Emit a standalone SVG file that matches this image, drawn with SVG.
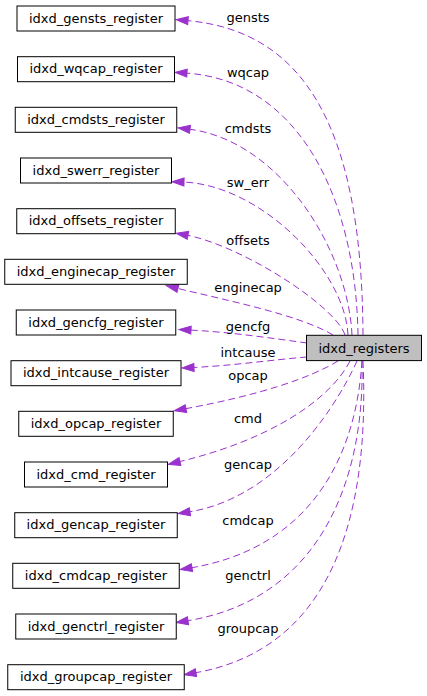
<svg xmlns="http://www.w3.org/2000/svg" width="427" height="696" viewBox="0 0 427 696">
<style>
.node rect{fill:#ffffff;stroke:#000000;stroke-width:1}
.node.main rect{fill:#bfbfbf}
text{font-family:"DejaVu Sans","Liberation Sans",sans-serif;font-size:13px;fill:#000000}
.node text{text-anchor:middle}
.lbl{text-anchor:middle}
.edge{fill:none;stroke:#9a32cd;stroke-width:1;stroke-dasharray:7,4;marker-end:url(#ah)}
</style>
<defs>
<marker id="ah" markerUnits="userSpaceOnUse" viewBox="0 -5 14 10" refX="2" refY="0" markerWidth="14" markerHeight="10" orient="auto" overflow="visible">
<path d="M0,-4L12,0L0,4z" fill="#9a32cd" stroke="#9a32cd" stroke-width="1"/>
</marker>
</defs>
<rect width="427" height="696" fill="#ffffff"/>
<g id="connectors">
<path class="edge" d="M363,335 C362,120 300,30 186,20.5"/>
<path class="edge" d="M358,335 C356,200 300,80 185,73"/>
<path class="edge" d="M352,335 C348,250 280,140 188,129"/>
<path class="edge" d="M348,335 C345,270 260,184 182,182"/>
<path class="edge" d="M345,335 C335,305 240,245 186,235"/>
<path class="edge" d="M333,335 C300,315 225,300 176,288"/>
<path class="edge" d="M307,343 C270,338 230,332 189,330"/>
<path class="edge" d="M307,357 C270,360 230,366 192,367.5"/>
<path class="edge" d="M338,361 C310,378 260,395 184,409"/>
<path class="edge" d="M350,361 C330,400 270,440 178,462"/>
<path class="edge" d="M357,361 C330,420 270,500 188,512"/>
<path class="edge" d="M362,361 C355,470 300,550 190,568"/>
<path class="edge" d="M362,361 C365,480 320,600 186,621"/>
<path class="edge" d="M363,361 C370,520 330,650 194,673"/>
<text class="lbl" x="248" y="22">gensts</text>
<text class="lbl" x="248" y="77">wqcap</text>
<text class="lbl" x="248" y="133">cmdsts</text>
<text class="lbl" x="248" y="187">sw_err</text>
<text class="lbl" x="248" y="245">offsets</text>
<text class="lbl" x="248" y="292">enginecap</text>
<text class="lbl" x="248" y="331">gencfg</text>
<text class="lbl" x="248" y="357">intcause</text>
<text class="lbl" x="248" y="380">opcap</text>
<text class="lbl" x="248" y="423">cmd</text>
<text class="lbl" x="248" y="469">gencap</text>
<text class="lbl" x="248" y="525">cmdcap</text>
<text class="lbl" x="248" y="580">genctrl</text>
<text class="lbl" x="248" y="633">groupcap</text>
</g>
<g id="node-main" class="node main"><rect x="306.5" y="335.3" width="115" height="25.3"/><text x="364" y="352.5">idxd_registers</text></g>
<g id="node-gensts" class="node"><rect x="17" y="6" width="158" height="25"/><text x="96" y="22.5">idxd_gensts_register</text></g>
<g id="node-wqcap" class="node"><rect x="17.5" y="56.7" width="157" height="25"/><text x="96" y="73.2">idxd_wqcap_register</text></g>
<g id="node-cmdsts" class="node"><rect x="15.25" y="107.3" width="161.5" height="25"/><text x="96" y="123.8">idxd_cmdsts_register</text></g>
<g id="node-swerr" class="node"><rect x="20.5" y="158" width="151" height="25"/><text x="96" y="174.5">idxd_swerr_register</text></g>
<g id="node-offsets" class="node"><rect x="16.75" y="208.7" width="158.5" height="25"/><text x="96" y="225.2">idxd_offsets_register</text></g>
<g id="node-enginecap" class="node"><rect x="4.75" y="259.3" width="182.5" height="25"/><text x="96" y="275.8">idxd_enginecap_register</text></g>
<g id="node-gencfg" class="node"><rect x="16.25" y="310" width="159.5" height="25"/><text x="96" y="326.5">idxd_gencfg_register</text></g>
<g id="node-intcause" class="node"><rect x="11" y="360.7" width="170" height="25"/><text x="96" y="377.2">idxd_intcause_register</text></g>
<g id="node-opcap" class="node"><rect x="18.75" y="411.3" width="154.5" height="25"/><text x="96" y="427.8">idxd_opcap_register</text></g>
<g id="node-cmd" class="node"><rect x="24.5" y="462" width="143" height="25"/><text x="96" y="478.5">idxd_cmd_register</text></g>
<g id="node-gencap" class="node"><rect x="14.75" y="512.7" width="162.5" height="25"/><text x="96" y="529.2">idxd_gencap_register</text></g>
<g id="node-cmdcap" class="node"><rect x="12.75" y="563.3" width="166.5" height="25"/><text x="96" y="579.8">idxd_cmdcap_register</text></g>
<g id="node-genctrl" class="node"><rect x="15.75" y="614" width="160.5" height="25"/><text x="96" y="630.5">idxd_genctrl_register</text></g>
<g id="node-groupcap" class="node"><rect x="7.75" y="664.7" width="176.5" height="25"/><text x="96" y="681.2">idxd_groupcap_register</text></g>
</svg>
